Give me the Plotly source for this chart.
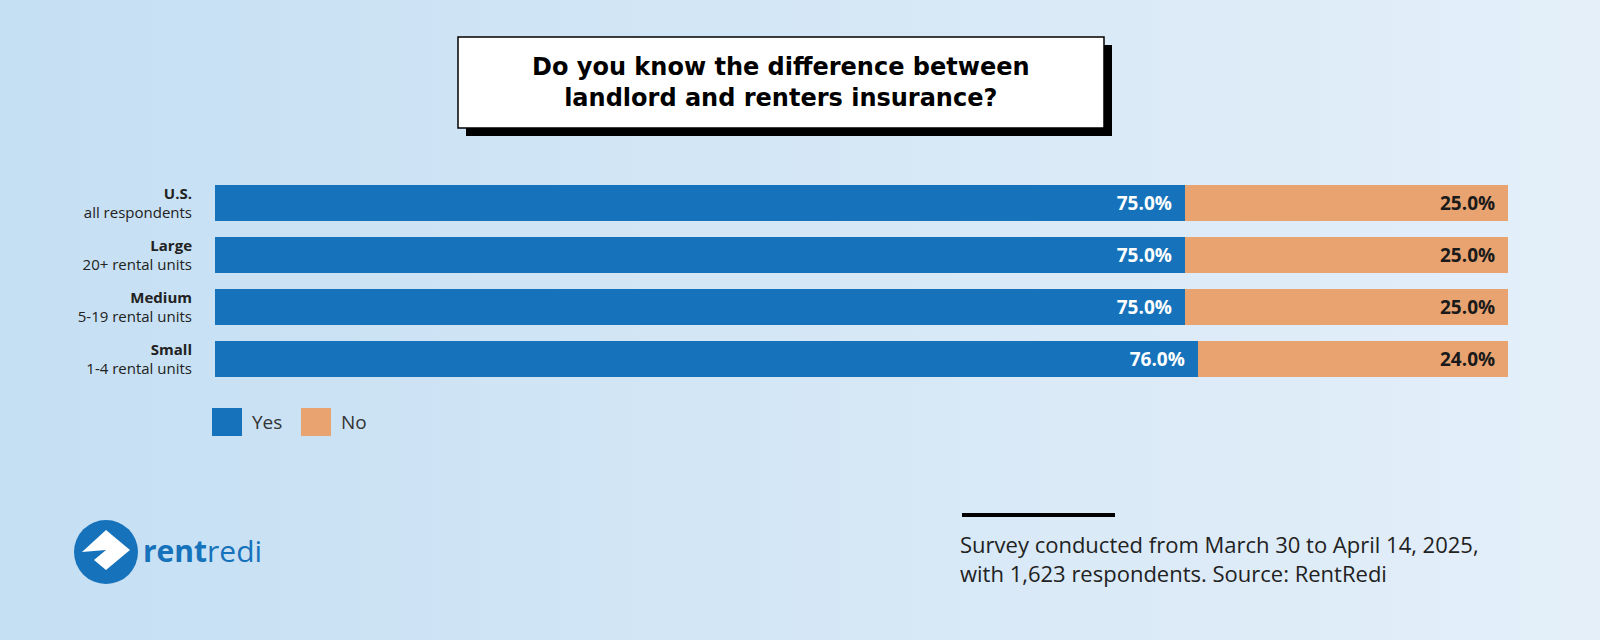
import plotly.graph_objects as go

W, H = 1600, 640

groups = ["U.S.", "Large", "Medium", "Small"]
subtitles = ["all respondents", "20+ rental units", "5-19 rental units", "1-4 rental units"]
yes_vals = [75.0, 75.0, 75.0, 76.0]
no_vals = [25.0, 25.0, 25.0, 24.0]

BLUE = "#1572bb"
ORANGE = "#e8a371"

ticks = [f"<b>{g}</b><br>{s}" for g, s in zip(groups, subtitles)]

fig = go.Figure()
fig.add_trace(go.Bar(y=ticks, x=yes_vals, orientation="h", name="Yes", marker_color=BLUE,
                     text=[f"{v:.1f}%" for v in yes_vals], textposition="inside", insidetextanchor="end",
                     textfont=dict(color="white", size=19, family="Open Sans"), hoverinfo="skip"))
fig.add_trace(go.Bar(y=ticks, x=no_vals, orientation="h", name="No", marker_color=ORANGE,
                     text=[f"{v:.1f}%" for v in no_vals], textposition="inside", insidetextanchor="end",
                     textfont=dict(color="#1a1a1a", size=19, family="Open Sans"), hoverinfo="skip"))
fig.update_traces(texttemplate="<b>%{text}</b>  ", marker_line_width=0)


def px(x):
    return (x - 215) / 1293


def py(y):
    return (385 - y) / 208


shapes = []
# background gradient
n = 40
c0, c1 = (197, 223, 243), (228, 239, 249)
for i in range(n):
    t = i / (n - 1)
    col = "rgb(%d,%d,%d)" % tuple(round(a + (b - a) * t) for a, b in zip(c0, c1))
    shapes.append(dict(type="rect", xref="paper", yref="paper", x0=px(i * W / n - 1), x1=px((i + 1) * W / n + 1),
                       y0=py(700), y1=py(-50), fillcolor=col, line_width=0, layer="below"))

# title box with shadow
shapes.append(dict(type="rect", xref="paper", yref="paper", x0=px(466), x1=px(1112), y0=py(136), y1=py(45),
                   fillcolor="black", line_width=0))
shapes.append(dict(type="rect", xref="paper", yref="paper", x0=px(458), x1=px(1104), y0=py(128), y1=py(37),
                   fillcolor="white", line=dict(color="black", width=1.5)))
# legend swatches
shapes.append(dict(type="rect", xref="paper", yref="paper", x0=px(212), x1=px(242), y0=py(436), y1=py(408),
                   fillcolor=BLUE, line_width=0))
shapes.append(dict(type="rect", xref="paper", yref="paper", x0=px(301), x1=px(331), y0=py(436), y1=py(408),
                   fillcolor=ORANGE, line_width=0))
# footer rule
shapes.append(dict(type="line", xref="paper", yref="paper", x0=px(962), x1=px(1115), y0=py(515), y1=py(515),
                   line=dict(color="black", width=4)))
# logo
shapes.append(dict(type="circle", xref="paper", yref="paper", x0=px(74), x1=px(138), y0=py(584), y1=py(520),
                   fillcolor=BLUE, line_width=0))
shapes.append(dict(type="path", xref="paper", yref="paper",
                   path="M %f %f L %f %f L %f %f L %f %f L %f %f L %f %f Z" % (
                       px(82), py(552), px(106), py(530), px(130), py(550),
                       px(106), py(570), px(94), py(560), px(106), py(550)),
                   fillcolor="white", line_width=0))

annotations = [
    dict(text="<b>Do you know the difference between<br>landlord and renters insurance?</b>",
         xref="paper", yref="paper", x=px(781), y=py(82), xanchor="center", yanchor="middle", showarrow=False,
         font=dict(size=24, family="DejaVu Sans", color="black")),
    dict(text="Yes", xref="paper", yref="paper", x=px(250), y=py(422), xanchor="left", yanchor="middle",
         showarrow=False, font=dict(size=19, family="Open Sans", color="#333")),
    dict(text="No", xref="paper", yref="paper", x=px(339), y=py(422), xanchor="left", yanchor="middle",
         showarrow=False, font=dict(size=19, family="Open Sans", color="#333")),
    dict(text="Survey conducted from March 30 to April 14, 2025,<br>with 1,623 respondents. Source: RentRedi",
         xref="paper", yref="paper", x=px(958), y=py(558), xanchor="left", yanchor="middle", align="left",
         showarrow=False, font=dict(size=22, family="Open Sans", color="#222")),
    dict(text="<b>rent</b>redi", xref="paper", yref="paper", x=px(141), y=py(550), xanchor="left",
         yanchor="middle", showarrow=False, font=dict(size=30, family="Open Sans", color=BLUE)),
]

fig.update_layout(
    width=W, height=H, barmode="stack", bargap=0.29, showlegend=False,
    margin=dict(l=215, r=92, t=177, b=255),
    paper_bgcolor="#d6e7f6", plot_bgcolor="rgba(0,0,0,0)",
    xaxis=dict(range=[0, 100], visible=False, fixedrange=True),
    yaxis=dict(autorange="reversed", ticks="", showgrid=False, ticklabelstandoff=22,
               tickfont=dict(size=15, family="Open Sans", color="#222")),
    shapes=shapes, annotations=annotations, font=dict(family="Open Sans"),
)

fig.write_html("out.html", config={"displayModeBar": False},
               post_script="document.body.style.margin='0';document.body.style.overflow='hidden';")
